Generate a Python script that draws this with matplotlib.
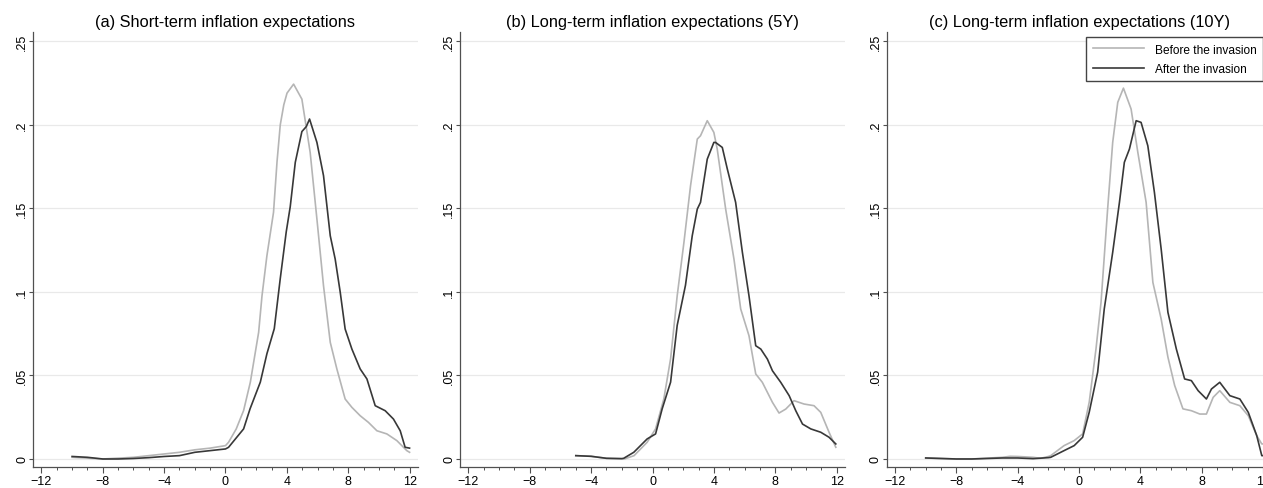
import matplotlib.pyplot as plt
from matplotlib.ticker import MultipleLocator, FixedLocator

plt.rcParams["font.family"] = ["Liberation Sans", "DejaVu Sans"]

titles = [
    "(a) Short-term inflation expectations",
    "(b) Long-term inflation expectations (5Y)",
    "(c) Long-term inflation expectations (10Y)",
]
labels = ["Before the invasion", "After the invasion"]

# (a) short-term
a_before_x = [-10, -9, -8, -7, -6, -5, -4, -3, -2, -1, 0, 0.2, 0.7, 1.18, 1.62, 2.16, 2.38, 2.70,
              3.13, 3.36, 3.57, 3.80, 4.01, 4.44, 4.98, 5.52, 5.96, 6.39, 6.83, 7.26, 7.80, 8.24,
              8.78, 9.32, 9.87, 10.52, 11.17, 11.82, 12.0]
a_before_y = [0.001, 0.0005, 0.0, 0.0005, 0.001, 0.002, 0.003, 0.004, 0.0055, 0.0065, 0.008, 0.010,
              0.018, 0.029, 0.046, 0.0758, 0.0977, 0.1217, 0.1476, 0.178, 0.200, 0.212, 0.219,
              0.2244, 0.2154, 0.1835, 0.1436, 0.1037, 0.0698, 0.0539, 0.0359, 0.0309, 0.0259,
              0.0219, 0.0169, 0.0150, 0.011, 0.005, 0.004]
a_after_x = [-10, -9, -8, -7, -6, -5, -4, -3, -2.5, -2, -1, 0, 0.2, 1.18, 1.6, 2.27, 2.7, 3.18,
             3.57, 3.96, 4.22, 4.55, 4.98, 5.27, 5.48, 5.96, 6.39, 6.83, 7.15, 7.48, 7.80, 8.24,
             8.78, 9.22, 9.76, 10.41, 10.95, 11.39, 11.71, 12.0]
a_after_y = [0.0015, 0.001, 0.0, 0.0, 0.0003, 0.0008, 0.0015, 0.002, 0.003, 0.004, 0.005, 0.006,
             0.007, 0.018, 0.030, 0.046, 0.063, 0.078, 0.108, 0.136, 0.151, 0.1776, 0.1960,
             0.1990, 0.2035, 0.1895, 0.1696, 0.1336, 0.1197, 0.0998, 0.0778, 0.0658, 0.0539,
             0.0479, 0.0319, 0.0289, 0.0239, 0.0169, 0.007, 0.0065]

# (b) long-term 5Y
b_before_x = [-5, -4, -3, -2, -1.8, -1.2, -0.35, 0.2, 0.74, 1.18, 1.61, 2.05, 2.48, 2.92, 3.13,
              3.57, 4.0, 4.22, 4.77, 5.31, 5.75, 6.29, 6.73, 7.16, 7.82, 8.25, 8.69, 9.23, 9.88,
              10.53, 10.97, 11.51, 11.95]
b_before_y = [0.002, 0.0016, 0.0004, 0.0002, 0.0001, 0.002, 0.010, 0.018, 0.036, 0.060, 0.0977,
              0.1297, 0.1636, 0.1915, 0.1935, 0.2025, 0.1955, 0.1855, 0.1496, 0.1197, 0.0898,
              0.0738, 0.0509, 0.0459, 0.0339, 0.0275, 0.0299, 0.0349, 0.0329, 0.0319, 0.0279,
              0.016, 0.007]
b_after_x = [-5, -4, -3, -2, -1.88, -1.22, -0.35, 0.2, 0.63, 1.18, 1.61, 2.15, 2.59, 2.92, 3.13,
             3.57, 4.0, 4.11, 4.55, 4.88, 5.42, 5.86, 6.29, 6.73, 7.06, 7.49, 7.82, 8.36, 8.91,
             9.34, 9.78, 10.32, 10.97, 11.51, 11.95]
b_after_y = [0.002, 0.0016, 0.0004, 0.0002, 0.0004, 0.004, 0.012, 0.015, 0.030, 0.046, 0.080,
             0.104, 0.1336, 0.1496, 0.1536, 0.1795, 0.1895, 0.1895, 0.1865, 0.1735, 0.1536,
             0.1237, 0.0977, 0.0678, 0.0658, 0.0598, 0.0528, 0.0459, 0.0379, 0.0289, 0.0209,
             0.018, 0.016, 0.013, 0.009]

# (c) long-term 10Y
c_before_x = [-10, -9, -8, -7, -6, -5, -4.5, -4, -3, -2.5, -2, -1.85, -0.98, -0.32, 0.23, 0.66,
              1.10, 1.43, 1.86, 2.19, 2.52, 2.89, 3.39, 3.83, 4.37, 4.81, 5.35, 5.79, 6.23, 6.77,
              7.32, 7.87, 8.30, 8.74, 9.17, 9.83, 10.48, 11.03, 11.58, 11.91, 12.1]
c_before_y = [0.0006, 0.0003, 0.0, 0.0, 0.0005, 0.001, 0.0016, 0.0015, 0.001, 0.0004, 0.0015,
              0.002, 0.008, 0.011, 0.015, 0.034, 0.0658, 0.0938, 0.1496, 0.1895, 0.2135, 0.222,
              0.2095, 0.1835, 0.1536, 0.1057, 0.0838, 0.061, 0.044, 0.030, 0.0289, 0.0269,
              0.0269, 0.0369, 0.0409, 0.0339, 0.0319, 0.0259, 0.014, 0.009, 0.009]
c_after_x = [-10, -9, -8, -7, -6, -5, -4, -3, -2, -1.85, -0.98, -0.32, 0.23, 0.66, 1.21, 1.64,
             2.19, 2.63, 2.95, 3.28, 3.72, 4.04, 4.48, 4.91, 5.35, 5.79, 6.34, 6.88, 7.32, 7.76,
             8.30, 8.63, 9.17, 9.83, 10.48, 11.03, 11.58, 11.91, 12.1]
c_after_y = [0.0006, 0.0003, 0.0, 0.0, 0.0003, 0.0006, 0.0006, 0.0002, 0.0008, 0.001, 0.005,
             0.008, 0.013, 0.028, 0.052, 0.0898, 0.1237, 0.1536, 0.1776, 0.1855, 0.2025, 0.2015,
             0.1875, 0.1596, 0.1257, 0.0878, 0.0658, 0.0479, 0.0469, 0.0409, 0.0359, 0.0419,
             0.0459, 0.0379, 0.0359, 0.0279, 0.014, 0.002, 0.002]

panels = [
    (a_before_x, a_before_y, a_after_x, a_after_y),
    (b_before_x, b_before_y, b_after_x, b_after_y),
    (c_before_x, c_before_y, c_after_x, c_after_y),
]
yticks = [0, 0.05, 0.1, 0.15, 0.2, 0.25]
ytick_labels = ["0", ".05", ".1", ".15", ".2", ".25"]
xticks = [-12, -8, -4, 0, 4, 8, 12]

W, H = 1263, 489
fig = plt.figure(figsize=(W / 100, H / 100), dpi=100)
lefts = [33, 460, 886.6]
axes = []
for left in lefts:
    axes.append(fig.add_axes([left / W, 21 / H, 385 / W, 435 / H]))

gray_c, dark_c, axis_c = "#b5b5b5", "#383838", "#505050"
for ax, title, (bx, by, ax_x, ay) in zip(axes, titles, panels):
    ax.plot(bx, by, color=gray_c, lw=1.2, label=labels[0])
    ax.plot(ax_x, ay, color=dark_c, lw=1.2, label=labels[1])
    ax.set_xlim(-12.55, 12.55)
    ax.set_ylim(-0.0048, 0.2556)
    ax.set_title(title, fontsize=11.8, pad=4)
    ax.xaxis.set_major_locator(FixedLocator(xticks))
    ax.xaxis.set_minor_locator(MultipleLocator(1))
    ax.set_yticks(yticks)
    ax.set_yticklabels(ytick_labels, rotation=90, va="center")
    ax.grid(axis="y", color="#e9e9e9", lw=0.9)
    ax.set_axisbelow(True)
    for s in ["top", "right"]:
        ax.spines[s].set_visible(False)
    for s in ["left", "bottom"]:
        ax.spines[s].set_color(axis_c)
        ax.spines[s].set_linewidth(0.9)
    ax.tick_params(which="major", length=4, width=0.8, color=axis_c, labelsize=9, pad=2)
    ax.tick_params(which="minor", length=2.2, width=0.7, color=axis_c)
    ax.tick_params(axis="y", which="major", length=3, pad=0.5)

axes[2].legend(loc="upper left", bbox_to_anchor=(1086 / W, 1 - 38 / H),
               bbox_transform=fig.transFigure, fontsize=8.6, handlelength=4.3,
               fancybox=False, edgecolor="#444444", framealpha=1,
               borderaxespad=0, borderpad=0.55, labelspacing=0.6, handletextpad=0.9)

fig.savefig("out.png", dpi=100)
